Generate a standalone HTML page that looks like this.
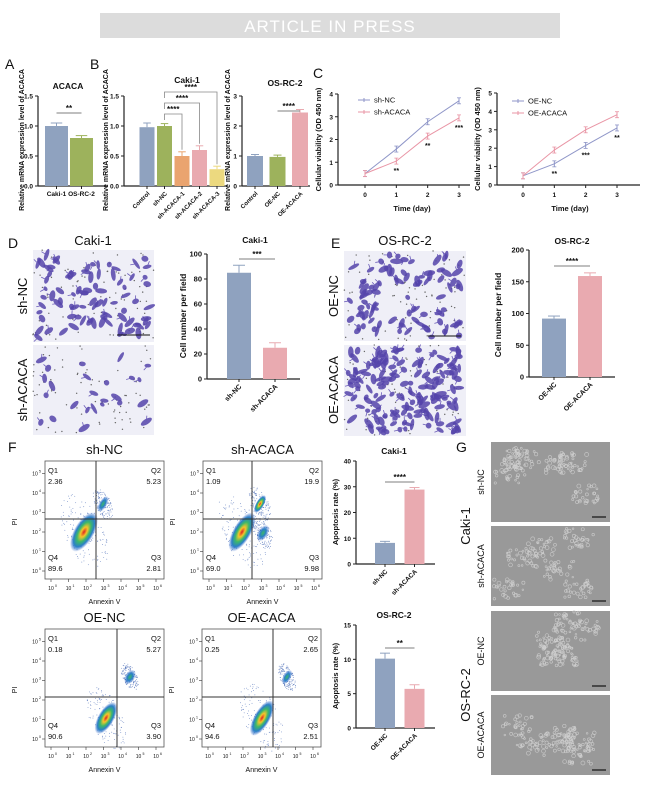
<!DOCTYPE html>
<html><head><meta charset="utf-8"><style>
html,body{margin:0;padding:0;background:#fff}
svg{display:block;font-family:"Liberation Sans",Arial,sans-serif}
</style></head><body>
<svg id="fig" width="660" height="785" viewBox="0 0 660 785" xmlns="http://www.w3.org/2000/svg">
<defs>
<radialGradient id="dens" cx="50%" cy="50%" r="50%">
<stop offset="0" stop-color="#d22"/><stop offset="0.25" stop-color="#f5c62a"/><stop offset="0.5" stop-color="#3cb86a"/><stop offset="0.75" stop-color="#2a7fc8"/><stop offset="1" stop-color="#2a5fc8" stop-opacity="0"/>
</radialGradient>
<radialGradient id="dens2" cx="50%" cy="50%" r="50%">
<stop offset="0" stop-color="#3cb86a"/><stop offset="0.5" stop-color="#2a7fc8"/><stop offset="1" stop-color="#2a5fc8" stop-opacity="0"/>
</radialGradient>
</defs>
<rect x="100" y="13" width="460" height="25" fill="#dcdcdc"/>
<text x="330" y="32" text-anchor="middle" font-size="17" fill="#fff" letter-spacing="1">ARTICLE IN PRESS</text>
<g id="root"></g>
</svg>
<script>
// ---- data ----
const aCats=['Caki-1','OS-RC-2'];
const aVals=[1.0,0.8];
const aErr=[0.05,0.04];
const bCakiCats=['Control','sh-NC','sh-ACACA-1','sh-ACACA-2','sh-ACACA-3'];
const bCakiVals=[0.98,1.0,0.5,0.6,0.28];
const bCakiErr=[0.07,0.04,0.07,0.07,0.05];
const bOsCats=['Control','OE-NC','OE-ACACA'];
const bOsVals=[1.0,0.97,2.45];
const bOsErr=[0.05,0.06,0.1];
const days=[0,1,2,3];
const cCakiNC=[0.5,1.58,2.78,3.7];
const cCakiSh=[0.5,1.05,2.15,2.95];
const cOsNC=[0.5,1.15,2.15,3.1];
const cOsOE=[0.5,1.9,3.0,3.82];
const dCats=['sh-NC','sh-ACACA'];
const dVals=[85,25];
const dErr=[6,4];
const eCats=['OE-NC','OE-ACACA'];
const eVals=[92,159];
const eErr=[4,5];
const fCakiCats=['sh-NC','sh-ACACA'];
const fCakiVals=[8.2,28.9];
const fCakiErr=[0.6,0.8];
const fOsCats=['OE-NC','OE-ACACA'];
const fOsVals=[10.1,5.7];
const fOsErr=[0.8,0.6];
const flowQ=[['2.36','5.23','89.6','2.81'],['1.09','19.9','69.0','9.98'],['0.18','5.27','90.6','3.90'],['0.25','2.65','94.6','2.51']];

const NS='http://www.w3.org/2000/svg';
const root=document.getElementById('root');
function el(tag,attrs,parent,txt){const e=document.createElementNS(NS,tag);for(const k in attrs)e.setAttribute(k,attrs[k]);if(txt!==undefined)e.textContent=txt;(parent||root).appendChild(e);return e;}
function txt(x,y,s,size,opt,parent){opt=opt||{};const a={x:x,y:y,'font-size':size,fill:'#111'};if(opt.anchor)a['text-anchor']=opt.anchor;if(opt.bold)a['font-weight']='bold';if(opt.rot!==undefined)a.transform='rotate('+opt.rot+' '+x+' '+y+')';const t=el('text',a,parent,s);return t;}

function barChart(cfg){
  const g=el('g',{});
  
  
  const ys=v=>cfg.y0-(v/cfg.ymax)*(cfg.y0-cfg.y1);
  const ax=el('line',{x1:cfg.ax,y1:cfg.y1,x2:cfg.ax,y2:cfg.y0,stroke:'#222','stroke-width':1.2},g);
  
  const bx=el('line',{x1:cfg.ax,y1:cfg.y0,x2:cfg.axEnd,y2:cfg.y0,stroke:'#222','stroke-width':1.2},g);
  
  cfg.ticks.forEach(t=>{const y=ys(t);el('line',{x1:cfg.ax-3,y1:y,x2:cfg.ax,y2:y,stroke:'#222'},g);
    const tl=txt(cfg.ax-5,y+2.5,cfg.tickFmt?cfg.tickFmt(t):String(t),cfg.tfs||7,{anchor:'end',bold:true},g);
    });
  cfg.vals.forEach((v,i)=>{
    const cx=cfg.c0+i*cfg.step;
    const r=el('rect',{x:cx-cfg.bw/2,y:ys(v),width:cfg.bw,height:cfg.y0-ys(v),fill:cfg.colors[i]},g);
    
    
    const e=cfg.err[i];
    el('line',{x1:cx,y1:ys(v),x2:cx,y2:ys(v+e),stroke:cfg.colors[i],'stroke-width':1},g);
    el('line',{x1:cx-cfg.bw/4,y1:ys(v+e),x2:cx+cfg.bw/4,y2:ys(v+e),stroke:cfg.colors[i],'stroke-width':1},g);
    el('line',{x1:cx,y1:cfg.y0,x2:cx,y2:cfg.y0+3,stroke:'#222'},g);
    let lab;
    if(cfg.rotLab){lab=txt(cx+3,cfg.y0+8,cfg.cats[i],cfg.lfs||6.5,{anchor:'end',bold:true,rot:-45},g);}
    else{lab=txt(cx,cfg.y0+10,cfg.cats[i],cfg.lfs||6.5,{anchor:'middle',bold:true},g);}
    
  });
  const tt=txt(cfg.tx,cfg.ty,cfg.title,cfg.titfs||8.5,{anchor:'middle',bold:true},g);
  
  const yl=txt(cfg.ylx,cfg.yly,cfg.ylabel,cfg.ylfs||7.5,{anchor:'middle',bold:true,rot:-90},g);
  
  (cfg.sig||[]).forEach(s=>{
    const i=s[0],j=s[1],y=s[2];const xa=cfg.c0+i*cfg.step,xb=cfg.c0+j*cfg.step;
    if(s[4]){el('path',{d:`M${xa} ${y+6}V${y}H${xb}V${ys(cfg.vals[j]+cfg.err[j])-2}`,fill:'none',stroke:'#888','stroke-width':0.8},g);}
    else el('line',{x1:xa,y1:y,x2:xb,y2:y,stroke:'#555','stroke-width':0.7},g);
    const st=txt((xa+xb)/2,y-2,s[3],8,{anchor:'middle',bold:true},g);
    
  });
  return g;
}
const BLUE='#8fa2bf',GREEN='#9db25c',ORANGE='#eaa46f',PINK='#e9aab0',YEL='#ecd97f';

[['A',5,69],['B',90,69],['C',313,78],['D',8,248],['E',331,248],['F',8,452],['G',456,452]].forEach(p=>{
  const t=txt(p[1],p[2],p[0],14,{});});

barChart({name:'panel-a-chart',cats:aCats,vals:aVals,err:aErr,ax:38,axEnd:108,y0:186,y1:96,ymax:1.5,ticks:[0,0.5,1.0,1.5],tickFmt:t=>t.toFixed(1),
 c0:56.5,step:25,bw:23,colors:[BLUE,GREEN],title:'ACACA',tx:68,ty:89,ylabel:'Relative mRNA expression level of ACACA',ylx:24,yly:140,ylfs:7,lfs:6.5,tfs:6.5,
 sig:[[0,1,113,'**']]});
barChart({name:'panel-b-caki-chart',cats:bCakiCats,vals:bCakiVals,err:bCakiErr,ax:124,axEnd:227,y0:186,y1:96,ymax:1.5,ticks:[0,0.5,1.0,1.5],tickFmt:t=>t.toFixed(1),
 c0:147,step:17.5,bw:15,colors:[BLUE,GREEN,ORANGE,PINK,YEL],title:'Caki-1',tx:187,ty:83,ylabel:'Relative mRNA expression level of ACACA',ylx:108,yly:140,ylfs:7,lfs:6,tfs:6.5,rotLab:true,
 sig:[[1,2,114,'****',1],[1,3,103,'****',1],[1,4,92,'****',1]]});
barChart({name:'panel-b-osrc2-chart',cats:bOsCats,vals:bOsVals,err:bOsErr,ax:242,axEnd:310,y0:186,y1:96,ymax:3,ticks:[0,1,2,3],
 c0:255,step:22.5,bw:16,colors:[BLUE,GREEN,PINK],title:'OS-RC-2',tx:285,ty:86,ylabel:'Relative mRNA expression level of ACACA',ylx:230,yly:140,ylfs:7,lfs:6,tfs:6.5,rotLab:true,
 sig:[[1,2,111,'****']]});

function lineChart(cfg){
  const g=el('g',{});
  
  
  const ys=v=>cfg.y0-(v/cfg.ymax)*(cfg.y0-cfg.y1);
  const xs=d=>cfg.x0+(d/3)*(cfg.x3-cfg.x0);
  el('line',{x1:cfg.ax,y1:cfg.y1,x2:cfg.ax,y2:cfg.y0,stroke:'#222','stroke-width':1.2},g);
  el('line',{x1:cfg.ax,y1:cfg.y0,x2:cfg.axEnd,y2:cfg.y0,stroke:'#222','stroke-width':1.2},g);
  for(let t=0;t<=cfg.ymax;t++){const y=ys(t);el('line',{x1:cfg.ax-3,y1:y,x2:cfg.ax,y2:y,stroke:'#222'},g);
    const l=txt(cfg.ax-5,y+2.5,String(t),6.5,{anchor:'end',bold:true},g);}
  days.forEach(d=>{el('line',{x1:xs(d),y1:cfg.y0,x2:xs(d),y2:cfg.y0+3,stroke:'#222'},g);
    const l=txt(xs(d),cfg.y0+12,String(d),6.5,{anchor:'middle',bold:true},g);});
  cfg.series.forEach((s,si)=>{
    const pts=s.vals.map((v,i)=>xs(days[i])+','+ys(v)).join(' ');
    const pl=el('polyline',{points:pts,fill:'none',stroke:s.color,'stroke-width':1},g);
    
    s.vals.forEach((v,i)=>{const x=xs(days[i]),y=ys(v);
      const m=el('line',{x1:x,y1:y-3,x2:x,y2:y+3,stroke:s.color,'stroke-width':1},g);
      
      el('line',{x1:x-2,y1:y-3,x2:x+2,y2:y-3,stroke:s.color,'stroke-width':0.8},g);
      el('line',{x1:x-2,y1:y+3,x2:x+2,y2:y+3,stroke:s.color,'stroke-width':0.8},g);});
    const ly=cfg.ly+si*12;
    el('line',{x1:cfg.lx,y1:ly,x2:cfg.lx+12,y2:ly,stroke:s.color,'stroke-width':1},g);
    el('line',{x1:cfg.lx+6,y1:ly-2,x2:cfg.lx+6,y2:ly+2,stroke:s.color,'stroke-width':1},g);
    const lt=txt(cfg.lx+16,ly+2.5,s.label,7.5,{},g);
  });
  cfg.stars.forEach((st,i)=>{if(!st)return;const lo=Math.min(cfg.series[0].vals[i],cfg.series[1].vals[i]);
    const t=txt(xs(days[i]),ys(lo)+12,st,7,{anchor:'middle',bold:true},g);});
  const tt=txt(cfg.tx,cfg.y1-8,cfg.title,8.5,{anchor:'middle',bold:true},g);
  const xl=txt((cfg.x0+cfg.x3)/2,cfg.y0+26,'Time (day)',7.5,{anchor:'middle',bold:true},g);
  const yl=txt(cfg.ax-17,(cfg.y0+cfg.y1)/2,'Cellular viability (OD 450 nm)',7.5,{anchor:'middle',bold:true,rot:-90},g);
}
lineChart({name:'panel-c-caki-chart',ax:338,axEnd:470,x0:365,x3:459,y0:185,y1:94,ymax:4,tx:408,lx:358,ly:100,
 series:[{label:'sh-NC',vals:cCakiNC,color:'#8f96c8'},{label:'sh-ACACA',vals:cCakiSh,color:'#e995a5'}],stars:['','**','**','***']});
lineChart({name:'panel-c-osrc2-chart',ax:497,axEnd:640,x0:523,x3:617,y0:185,y1:93,ymax:5,tx:569,lx:512,ly:101,
 series:[{label:'OE-NC',vals:cOsNC,color:'#8f96c8'},{label:'OE-ACACA',vals:cOsOE,color:'#e995a5'}],stars:['','**','***','**']});

let seed=7;function rnd(){seed=(seed*16807)%2147483647;return seed/2147483647;}
function micro(x,y,w,h,n,name){
  const g=el('g',{});
  el('rect',{x:x,y:y,width:w,height:h,fill:'#efeff7'},g);
  for(let i=0;i<80;i++){el('circle',{cx:x+rnd()*w,cy:y+rnd()*h,r:0.7,fill:'#666'},g);}
  for(let i=0;i<n;i++){const cx=x+4+rnd()*(w-8),cy=y+4+rnd()*(h-8),a=rnd()*180,l=2.5+rnd()*4;
    el('ellipse',{cx:cx,cy:cy,rx:l,ry:1.8+rnd()*1.2,fill:'#5544aa',opacity:0.85,transform:`rotate(${a} ${cx} ${cy})`},g);
    if(rnd()<0.6){const a2=a+90+rnd()*60;el('line',{x1:cx,y1:cy,x2:cx+Math.cos(a2*Math.PI/180)*6,y2:cy+Math.sin(a2*Math.PI/180)*6,stroke:'#6a5bb8','stroke-width':0.8},g);}}
}
micro(33,250,121,92,85,'image-d-sh-nc');
micro(33,345,121,90,25,'image-d-sh-acaca');
micro(344,251,122,90,90,'image-e-oe-nc');
micro(344,345,122,91,160,'image-e-oe-acaca');
[[33,250],[344,251]].forEach(p=>{el('line',{x1:p[0]+84,y1:p[1]+85,x2:p[0]+117,y2:p[1]+85,stroke:'#111','stroke-width':1});});
[['Caki-1',93,245],['OS-RC-2',405,245]].forEach(t=>{const e=txt(t[1],t[2],t[0],13,{anchor:'middle'});});
[['sh-NC',27,296],['sh-ACACA',27,390],['OE-NC',338,296],['OE-ACACA',338,390]].forEach(t=>{const e=txt(t[1],t[2],t[0],13,{anchor:'middle',rot:-90});});

barChart({name:'panel-d-chart',cats:dCats,vals:dVals,err:dErr,ax:207,axEnd:300,y0:379,y1:254,ymax:100,ticks:[0,20,40,60,80,100],
 c0:239,step:36,bw:24,colors:[BLUE,PINK],title:'Caki-1',tx:255,ty:243,ylabel:'Cell number per field',ylx:186,yly:316,ylfs:8.5,lfs:7,tfs:7.5,rotLab:true,
 sig:[[0,1,259,'***']]});
barChart({name:'panel-e-chart',cats:eCats,vals:eVals,err:eErr,ax:529,axEnd:615,y0:377,y1:250,ymax:200,ticks:[0,50,100,150,200],
 c0:554,step:36,bw:24,colors:[BLUE,PINK],title:'OS-RC-2',tx:572,ty:244,ylabel:'Cell number per field',ylx:501,yly:315,ylfs:8.5,lfs:7,tfs:7.5,rotLab:true,
 sig:[[0,1,266,'****']]});

function flow(x,y,vx,hy,title,q,blobs,name){
  const g=el('g',{});
  const w=119,h=118;
  blobs.forEach(b=>{
    for(let i=0;i<140;i++){const r=Math.sqrt(rnd())*b[2]*1.9,a=rnd()*Math.PI*2;
      el('circle',{cx:b[0]+Math.cos(a)*r*0.5+Math.sin(a)*r*0.3,cy:b[1]+Math.sin(a)*r*0.9,r:0.45,fill:'#3a5fb0',opacity:0.7},g);}
    el('ellipse',{cx:b[0],cy:b[1],rx:b[2],ry:b[3],fill:b[4],transform:`rotate(-60 ${b[0]} ${b[1]})`},g);});
  el('rect',{x:x,y:y,width:w,height:h,fill:'none',stroke:'#555','stroke-width':0.8},g);
  el('line',{x1:vx,y1:y,x2:vx,y2:y+h,stroke:'#333','stroke-width':1},g);
  el('line',{x1:x,y1:hy,x2:x+w,y2:hy,stroke:'#333','stroke-width':1},g);
  const tt=txt(x+w/2,y-7,title,13,{anchor:'middle'},g);
  [['Q1',x+3,y+12,'start'],['Q2',x+w-3,y+12,'end'],['Q4',x+3,y+h-19,'start'],['Q3',x+w-3,y+h-19,'end']].forEach((a,i)=>{
    txt(a[1],a[2],a[0],7.5,{anchor:a[3]},g);
    const v=txt(a[1],a[2]+11,q[i],7.5,{anchor:a[3]},g);});
  for(let k=0;k<=6;k++){const tx=x+6+k*17.5;el('line',{x1:tx,y1:y+h,x2:tx,y2:y+h+3,stroke:'#333','stroke-width':0.6},g);
    txt(tx,y+h+11,'10',5,{anchor:'middle'},g);txt(tx+4,y+h+8,String(k),3.5,{},g);}
  const ax=txt(x+w/2,y+h+25,'Annexin V',7,{anchor:'middle'},g);
  const pi=txt(x-28,y+h/2+2,'PI',7,{anchor:'middle',rot:-90},g);
  for(let k=0;k<=5;k++){const ty=y+h-8-k*19.5;if(ty<y)continue;el('line',{x1:x-3,y1:ty,x2:x,y2:ty,stroke:'#333','stroke-width':0.6},g);
    txt(x-10,ty+2,'10',5,{anchor:'middle'},g);txt(x-6,ty-1,String(k),3.5,{},g);}
}
flow(45,461,96,519,'sh-NC',flowQ[0],[[84,532,22,10,'url(#dens)'],[103,504,9,4,'url(#dens2)']],'flow-sh-nc');
flow(203,461,252,519,'sh-ACACA',flowQ[1],[[242,532,22,9,'url(#dens)'],[260,504,10,4,'url(#dens)'],[263,533,9,5,'url(#dens2)']],'flow-sh-acaca');
flow(45,629,117,697,'OE-NC',flowQ[2],[[106,718,18,8,'url(#dens)'],[130,677,8,5,'url(#dens2)']],'flow-oe-nc');
flow(202,629,273,697,'OE-ACACA',flowQ[3],[[262,718,20,8,'url(#dens)'],[287,677,8,4,'url(#dens2)']],'flow-oe-acaca');

barChart({name:'panel-f-caki-chart',cats:fCakiCats,vals:fCakiVals,err:fCakiErr,ax:356,axEnd:435,y0:564,y1:461,ymax:40,ticks:[0,10,20,30,40],
 c0:385,step:29.5,bw:20,colors:[BLUE,PINK],title:'Caki-1',tx:394,ty:454,ylabel:'Apoptosis rate (%)',ylx:338,yly:512,ylfs:7.5,lfs:6.5,tfs:6.5,rotLab:true,
 sig:[[0,1,482,'****']]});
barChart({name:'panel-f-osrc2-chart',cats:fOsCats,vals:fOsVals,err:fOsErr,ax:356,axEnd:435,y0:728,y1:625,ymax:15,ticks:[0,5,10,15],
 c0:385,step:29.5,bw:20,colors:[BLUE,PINK],title:'OS-RC-2',tx:394,ty:618,ylabel:'Apoptosis rate (%)',ylx:338,yly:676,ylfs:7.5,lfs:6.5,tfs:6.5,rotLab:true,
 sig:[[0,1,648,'**']]});

[[442,'sh-NC'],[526,'sh-ACACA'],[611,'OE-NC'],[695,'OE-ACACA']].forEach(r=>{
  const g=el('g',{});
  el('rect',{x:491,y:r[0],width:119,height:80,fill:'#999999'},g);
  for(let k=0;k<6;k++){const cx=491+10+rnd()*99,cy=r[0]+8+rnd()*64;
    for(let i=0;i<30;i++){el('circle',{cx:cx+(rnd()-0.5)*30,cy:cy+(rnd()-0.5)*20,r:0.8+rnd()*1.2,fill:'none',stroke:'#d0d0d0','stroke-width':0.7,opacity:0.8},g);}}
  el('line',{x1:592,y1:r[0]+75,x2:606,y2:r[0]+75,stroke:'#111','stroke-width':1.2},g);
  const t=txt(484,r[0]+40,r[1],9,{anchor:'middle',rot:-90},g);
});
[['Caki-1',470,526],['OS-RC-2',470,695]].forEach(t=>{const e=txt(t[1],t[2],t[0],13,{anchor:'middle',rot:-90});});
</script>
</body></html>
